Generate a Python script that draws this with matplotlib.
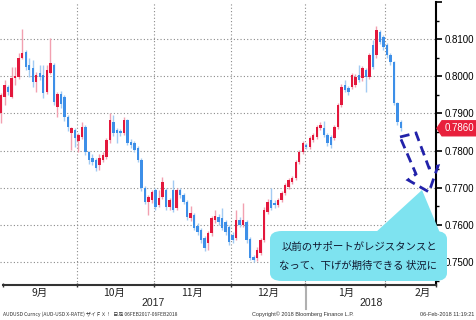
import numpy as np
import matplotlib.pyplot as plt
from matplotlib.patches import FancyBboxPatch, Polygon

plt.rcParams['font.family'] = ['Noto Sans CJK JP', 'DejaVu Sans']

# AUD/USD daily candles, 31 Aug 2017 - 06 Feb 2018 (one per trading day)
opens = [0.7900, 0.7944, 0.7971, 0.7944, 0.7995, 0.7998, 0.8049, 0.8065, 0.8030, 0.8022,
         0.7984, 0.8008, 0.8003, 0.7957, 0.8008, 0.8030, 0.7917, 0.7952, 0.7944, 0.7890,
         0.7847, 0.7855, 0.7826, 0.7836, 0.7863, 0.7796, 0.7780, 0.7775, 0.7761, 0.7775,
         0.7783, 0.7828, 0.7877, 0.7855, 0.7853, 0.7847, 0.7882, 0.7823, 0.7820, 0.7807,
         0.7775, 0.7700, 0.7662, 0.7667, 0.7694, 0.7653, 0.7675, 0.7694, 0.7648, 0.7694,
         0.7645, 0.7694, 0.7680, 0.7662, 0.7618, 0.7627, 0.7597, 0.7586, 0.7565, 0.7551,
         0.7578, 0.7613, 0.7621, 0.7618, 0.7608, 0.7594, 0.7573, 0.7565, 0.7613, 0.7600,
         0.7608, 0.7562, 0.7514, 0.7511, 0.7524, 0.7559, 0.7635, 0.7667, 0.7659, 0.7653,
         0.7667, 0.7686, 0.7702, 0.7716, 0.7726, 0.7769, 0.7796, 0.7815, 0.7810, 0.7828,
         0.7836, 0.7860, 0.7860, 0.7842, 0.7836, 0.7833, 0.7863, 0.7922, 0.7976, 0.7968,
         0.7971, 0.7976, 0.8003, 0.7995, 0.8017, 0.7998, 0.8084, 0.8057, 0.8119, 0.8105,
         0.8084, 0.8057, 0.8038, 0.7928, 0.7877]
closes = [0.7949, 0.7976, 0.7957, 0.7995, 0.8000, 0.8049, 0.8062, 0.8025, 0.8017, 0.7984,
          0.8003, 0.7998, 0.7955, 0.8017, 0.8035, 0.7930, 0.7952, 0.7925, 0.7890, 0.7863,
          0.7860, 0.7833, 0.7842, 0.7863, 0.7796, 0.7775, 0.7770, 0.7753, 0.7780, 0.7788,
          0.7828, 0.7882, 0.7847, 0.7847, 0.7847, 0.7882, 0.7820, 0.7815, 0.7801, 0.7775,
          0.7700, 0.7662, 0.7675, 0.7688, 0.7648, 0.7672, 0.7715, 0.7648, 0.7667, 0.7640,
          0.7694, 0.7680, 0.7662, 0.7621, 0.7632, 0.7592, 0.7581, 0.7559, 0.7538, 0.7578,
          0.7618, 0.7624, 0.7608, 0.7592, 0.7581, 0.7554, 0.7559, 0.7613, 0.7600, 0.7613,
          0.7559, 0.7511, 0.7505, 0.7532, 0.7559, 0.7640, 0.7662, 0.7645, 0.7653, 0.7667,
          0.7686, 0.7707, 0.7721, 0.7726, 0.7769, 0.7796, 0.7820, 0.7810, 0.7834, 0.7842,
          0.7863, 0.7869, 0.7842, 0.7820, 0.7815, 0.7863, 0.7922, 0.7971, 0.7963, 0.7957,
          0.8003, 0.7998, 0.7990, 0.8022, 0.7998, 0.8057, 0.8025, 0.8124, 0.8092, 0.8078,
          0.8057, 0.8038, 0.7928, 0.7877, 0.7860]
highs = [0.7955, 0.7990, 0.7976, 0.8025, 0.8025, 0.8062, 0.8127, 0.8070, 0.8049, 0.8044,
         0.8011, 0.8030, 0.8030, 0.8030, 0.8103, 0.8035, 0.7957, 0.7960, 0.7950, 0.7895,
         0.7863, 0.7860, 0.7846, 0.7876, 0.7868, 0.7800, 0.7790, 0.7780, 0.7790, 0.7796,
         0.7835, 0.7900, 0.7896, 0.7860, 0.7858, 0.7890, 0.7886, 0.7830, 0.7826, 0.7812,
         0.7780, 0.7705, 0.7680, 0.7694, 0.7700, 0.7694, 0.7729, 0.7700, 0.7672, 0.7720,
         0.7700, 0.7700, 0.7686, 0.7667, 0.7650, 0.7632, 0.7605, 0.7592, 0.7570, 0.7583,
         0.7624, 0.7640, 0.7630, 0.7645, 0.7613, 0.7600, 0.7580, 0.7640, 0.7620, 0.7659,
         0.7613, 0.7567, 0.7520, 0.7540, 0.7565, 0.7648, 0.7670, 0.7700, 0.7667, 0.7672,
         0.7690, 0.7712, 0.7726, 0.7732, 0.7775, 0.7802, 0.7826, 0.7820, 0.7840, 0.7848,
         0.7870, 0.7876, 0.7880, 0.7848, 0.7842, 0.7868, 0.7928, 0.7978, 0.7990, 0.7975,
         0.8010, 0.8005, 0.8030, 0.8028, 0.8022, 0.8062, 0.8098, 0.8135, 0.8125, 0.8110,
         0.8090, 0.8062, 0.8040, 0.7932, 0.7882]
lows = [0.7874, 0.7922, 0.7949, 0.7941, 0.7976, 0.7992, 0.8046, 0.8016, 0.7998, 0.7971,
        0.7957, 0.7990, 0.7941, 0.7952, 0.8005, 0.7922, 0.7890, 0.7915, 0.7879, 0.7852,
        0.7801, 0.7809, 0.7796, 0.7830, 0.7787, 0.7765, 0.7760, 0.7745, 0.7748, 0.7768,
        0.7778, 0.7820, 0.7840, 0.7820, 0.7840, 0.7842, 0.7815, 0.7808, 0.7795, 0.7768,
        0.7692, 0.7655, 0.7627, 0.7660, 0.7640, 0.7648, 0.7670, 0.7640, 0.7640, 0.7635,
        0.7640, 0.7672, 0.7655, 0.7613, 0.7610, 0.7586, 0.7573, 0.7551, 0.7530, 0.7532,
        0.7570, 0.7605, 0.7600, 0.7586, 0.7573, 0.7546, 0.7551, 0.7559, 0.7594, 0.7594,
        0.7551, 0.7505, 0.7500, 0.7503, 0.7519, 0.7554, 0.7630, 0.7640, 0.7645, 0.7648,
        0.7662, 0.7680, 0.7697, 0.7710, 0.7720, 0.7764, 0.7790, 0.7804, 0.7805, 0.7822,
        0.7830, 0.7855, 0.7836, 0.7812, 0.7808, 0.7828, 0.7858, 0.7916, 0.7958, 0.7950,
        0.7965, 0.7970, 0.7984, 0.7988, 0.7957, 0.7992, 0.8020, 0.8050, 0.8086, 0.8070,
        0.8050, 0.8030, 0.7922, 0.7870, 0.7852]

# month boundaries (candle index) and labels
month_edges = [0.5, 21.5, 43.5, 65.5, 86.5, 109.5]
month_pos = [10.9, 32.3, 54.4, 76.1, 98.3, 120.3]
month_labels = ['9月', '10月', '11月', '12月', '1月', '2月']
year_pos = [43.3, 105.5]
year_labels = ['2017', '2018']
year_edge = 87.0
yticks = [0.75, 0.76, 0.77, 0.78, 0.79, 0.80, 0.81]

W, H = 477, 320
fig = plt.figure(figsize=(W / 100, H / 100), dpi=100)
ax = fig.add_axes([0, 35 / H, 436 / W, 283 / H])


def fx(px):
    return px / W


def fy(py):
    return 1 - py / H


o = np.array(opens)
c = np.array(closes)
hi = np.array(highs)
lo = np.array(lows)
idx = np.arange(len(c))
up = c >= o

ax.vlines(idx[up], lo[up], hi[up], color='#F2A0B0', lw=1, zorder=2)
ax.vlines(idx[~up], lo[~up], hi[~up], color='#A2CBF3', lw=1, zorder=2)
body = np.maximum(np.abs(c - o), 0.00025)
ax.bar(idx[up], body[up], bottom=np.minimum(o, c)[up], width=0.7, color='#E3173C', zorder=3)
ax.bar(idx[~up], body[~up], bottom=np.minimum(o, c)[~up], width=0.7, color='#3D8FE8', zorder=3)

ax.set_xlim(-0.34, 124.0)
ax.set_ylim(0.7438, 0.8200)

# grid
for v in yticks:
    ax.axhline(v, color='#8a8a8a', lw=0.8, ls=(0, (1, 2)), zorder=1)
for m in month_edges[1:]:
    ax.axvline(m, color='#8a8a8a', lw=0.8, ls=(0, (1, 2)), zorder=1)

# right price axis
ax.yaxis.tick_right()
ax.set_yticks(yticks + [0.82])
ax.set_yticklabels(['%.4f' % v for v in yticks] + [''], family='Liberation Sans', fontsize=7)
ax.set_yticks(np.arange(0.745, 0.82, 0.01), minor=True)
ax.tick_params(axis='y', which='major', length=4, width=1.2, pad=2, colors='black')
ax.tick_params(axis='y', which='minor', length=2.5, width=1)
for s in ['top', 'left']:
    ax.spines[s].set_visible(False)
ax.spines['right'].set_linewidth(1.5)
ax.spines['bottom'].set_linewidth(1.5)
ax.spines['bottom'].set_color('#333333')
ax.spines['bottom'].set_bounds(0.5, 124.0)

# month axis
ax.set_xticks(month_edges + [124.0])
ax.set_xticklabels([])
ax.tick_params(axis='x', length=3, width=1, direction='inout', colors='#333333')
for p, t in zip(month_pos, month_labels):
    ax.text(p, -0.012, t, transform=ax.get_xaxis_transform(), ha='center', va='top',
            fontsize=7.5, color='#222222')
for p, t in zip(year_pos, year_labels):
    ax.text(p, -0.045, t, transform=ax.get_xaxis_transform(), ha='center', va='top',
            family='Liberation Sans', fontsize=7.5, color='#222222')
ax.plot([year_edge, year_edge], [-0.008, -0.085], transform=ax.get_xaxis_transform(),
        color='#b0b0b0', lw=1.5, clip_on=False)

# last price tag
fig.canvas.draw()
ty = H - ax.transData.transform((0, closes[-1]))[1]
tag = Polygon([(fx(437), fy(ty)), (fx(442), fy(ty - 7.5)), (fx(476), fy(ty - 7.5)),
               (fx(476), fy(ty + 7.5)), (fx(442), fy(ty + 7.5))],
              closed=True, transform=fig.transFigure, color='#E8203C', zorder=5)
fig.patches.append(tag)
fig.text(fx(459), fy(ty), '%.4f' % closes[-1], color='white', ha='center', va='center',
         family='Liberation Sans', fontsize=7, zorder=10)

# dashed arrow
arrow = Polygon([(fx(400), fy(137)), (fx(416), fy(133)), (fx(429), fy(168)), (fx(438), fy(166)),
                 (fx(429), fy(192)), (fx(408), fy(180)), (fx(416), fy(174))],
                closed=True, transform=fig.transFigure, fill=False, ec='#2222AA', lw=2,
                ls=(0, (3.5, 2)), zorder=6)
fig.patches.append(arrow)

# callout
box = FancyBboxPatch((fx(270), fy(281)), fx(177), 50 / H,
                     boxstyle='round,pad=0,rounding_size=0.025', transform=fig.transFigure,
                     fc='#7EE3F0', ec='none', zorder=7)
fig.patches.append(box)
ptr = Polygon([(fx(375), fy(233)), (fx(440), fy(233)), (fx(422), fy(190))], closed=True,
              transform=fig.transFigure, fc='#7EE3F0', ec='none', zorder=7)
fig.patches.append(ptr)
fig.text(fx(359), fy(247), '以前のサポートがレジスタンスと', ha='center', va='center',
         fontsize=7.5, color='#101830', zorder=10)
fig.text(fx(358), fy(266), 'なって、下げが期待できる 状況に', ha='center', va='center',
         fontsize=7.5, color='#101830', zorder=10)

# footer
fig.text(fx(3), fy(314), 'AUDUSD Curncy (AUD-USD X-RATE) ザイＦＸ！  日足 06FEB2017-06FEB2018',
         fontsize=3.6, color='#333333', va='center', ha='left', zorder=10)
fig.text(fx(252), fy(314), 'Copyright© 2018 Bloomberg Finance L.P.', fontsize=4,
         color='#333333', va='center', ha='left', family='Liberation Sans', zorder=10)
fig.text(fx(474), fy(314), '06-Feb-2018 11:19:21', fontsize=4, color='#333333',
         va='center', ha='right', family='Liberation Sans', zorder=10)

fig.savefig('out.png', dpi=100)
